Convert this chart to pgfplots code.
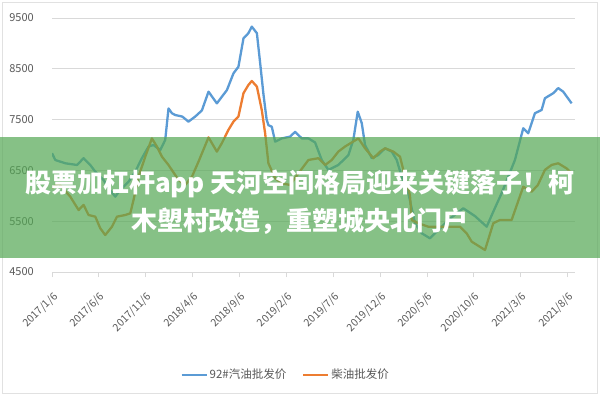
\documentclass[border=0pt]{standalone}
\usepackage{fontspec}
\setmainfont{Noto Sans CJK SC}
\usepackage{pgfplots}
\pgfplotsset{compat=1.18}
\definecolor{bluel}{RGB}{91,155,213}
\definecolor{orangel}{RGB}{237,125,49}
\definecolor{txtgray}{RGB}{89,89,89}
\definecolor{gridgray}{RGB}{217,217,217}
\definecolor{band}{RGB}{84,168,84}
\begin{document}
\begin{tikzpicture}[x=1pt,y=1pt]
\useasboundingbox (0,0) rectangle (600,400);
\fill[white] (0,0) rectangle (600,400);
\draw[gridgray!80, line width=0.8pt] (2.5,7) rectangle (597,398);
\begin{axis}[
  at={(52pt,128pt)}, anchor=south west,
  scale only axis, width=523pt, height=254pt,
  xmin=0, xmax=55.8, ymin=4500, ymax=9500,
  axis x line*=bottom, axis y line*=left,
  y axis line style={draw=none},
  x axis line style={draw=gridgray, line width=0.8pt},
  xtick={0,5,...,55},
  xticklabels={2017/1/6,2017/6/6,2017/11/6,2018/4/6,2018/9/6,2019/2/6,2019/7/6,2019/12/6,2020/5/6,2020/10/6,2021/3/6,2021/8/6},
  ytick={4500,5500,6500,7500,8500,9500},
  ymajorgrids, grid style={draw=gridgray, line width=0.8pt},
  tick align=outside, major tick length=5pt,
  xtick style={draw=gridgray, line width=0.8pt},
  ytick style={draw=none},
  /pgf/number format/assume math mode=true,
  /pgf/number format/1000 sep={},
  xticklabel style={font=\fontsize{10.5}{12}\selectfont, text=txtgray, inner sep=0pt, xshift=4pt, yshift=-18pt, rotate=45, anchor=east},
  yticklabel style={font=\fontsize{11}{13}\selectfont, text=txtgray, inner sep=0pt, anchor=east, xshift=-13pt},
  legend style={at={(axis description cs:0.447,-0.405)}, anchor=center, draw=none, fill=none,
    font=\fontsize{11.5}{13}\selectfont, text=txtgray, legend columns=2,
    /tikz/every even column/.append style={column sep=14pt}},
  legend image code/.code={\draw[#1, line width=2pt] (0pt,0pt) -- (25pt,0pt);},
  every axis plot/.append style={line width=2.3pt, line join=round, no marks},
]
\addplot[bluel] coordinates {
(0.00,6840) (0.35,6705) (1.42,6640) (2.67,6607) (3.37,6740) (4.08,6607) (4.62,6475)
(5.50,6312) (6.03,6148) (6.75,5983) (7.28,6115) (8.17,6278) (8.88,6475) (9.59,6740)
(10.30,6970) (10.83,7000) (11.55,6900) (12.08,7100) (12.43,7720) (12.80,7625) (13.15,7590)
(13.9,7560) (14.56,7460) (15.28,7560) (15.99,7680) (16.70,8050) (17.59,7820) (18.12,7950)
(18.66,8080) (19.36,8410) (19.89,8540) (20.43,9100) (20.95,9200) (21.32,9330) (21.86,9200)
(22.21,8610) (22.56,8000) (22.90,7500) (23.09,7390) (23.45,7360) (23.81,7065) (24.52,7130)
(25.41,7165) (25.94,7260) (26.65,7130) (27.36,7130) (28.07,7050) (28.78,6705) (29.49,6510)
(30.55,6607) (31.62,6800) (32.15,7100) (32.62,7656) (33.05,7430) (33.40,7000) (34.12,6740)
(34.82,6805) (35.54,6935) (36.25,6870) (36.78,6705) (37.31,6376) (38.02,6050) (38.73,5460)
(39.45,5262) (40.33,5163) (41.22,5327) (42.46,5550) (43.88,5754) (45.13,5600) (46.38,5392)
(47.08,5687) (47.97,6050) (49.39,6705) (50.28,7330) (50.81,7230) (51.52,7625) (52.24,7690)
(52.59,7920) (53.48,8020) (54.01,8120) (54.54,8050) (55.44,7820)
};
\addlegendentry{92\#汽油批发价}
\addplot[orangel] coordinates {
(0.00,6150) (0.70,6246) (1.95,5983) (2.84,5720) (3.37,5820) (3.90,5622) (4.62,5589)
(5.15,5360) (5.68,5228) (6.40,5392) (6.93,5589) (7.81,5622) (8.35,5655) (8.70,5918)
(9.23,6376) (9.95,6770) (10.66,7130) (11.19,6970) (11.73,6770) (12.43,6607) (13.50,6312)
(14.21,6213) (14.93,6376) (15.63,6672) (16.70,7150) (17.59,6870) (18.12,7035) (18.83,7300)
(19.36,7460) (19.89,7560) (20.43,8020) (20.95,8180) (21.32,8260) (21.86,8150) (22.38,7690)
(22.74,7230) (23.09,6640) (23.81,6345) (24.52,6246) (25.41,6213) (26.29,6443) (27.36,6705)
(28.42,6740) (29.14,6607) (29.85,6705) (30.55,6870) (31.27,6970) (32.69,7130) (33.40,6935)
(34.29,6740) (35.00,6870) (35.54,6935) (36.42,6870) (37.13,6770) (37.66,6376) (38.19,6015)
(38.38,5523) (39.08,5460) (40.15,5392) (41.22,5392) (43.53,5392) (44.24,5262) (44.78,5097)
(46.20,4933) (47.08,5460) (47.80,5525) (49.04,5525) (50.28,6180) (51.17,6080) (51.84,6213)
(52.59,6510) (53.30,6607) (54.01,6640) (54.90,6540) (55.44,6443)
};
\addlegendentry{柴油批发价}
\end{axis}
\fill[band, opacity=0.7] (0,142) rectangle (600,263);
\node[text=white, align=center, font=\fontsize{26}{38}\bfseries\selectfont] at (300,198)
  {股票加杠杆app 天河空间格局迎来关键落子！柯\\木塱村改造，重塑城央北门户};
\end{tikzpicture}
\end{document}
